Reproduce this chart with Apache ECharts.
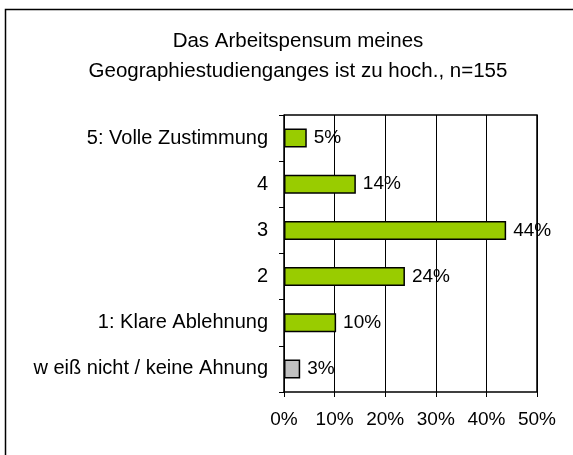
<!DOCTYPE html>
<html>
<head>
<meta charset="utf-8">
<script src="https://cdn.jsdelivr.net/npm/echarts@6/dist/echarts.min.js"></script>
<style>
  html, body { margin: 0; padding: 0; background: #fff; }
  #chart { width: 573px; height: 455px; }
</style>
</head>
<body>
<div id="chart"></div>
<script>
// answers, top to bottom in the picture (category axis runs bottom-up, so reversed below)
const categories = ['5: Volle Zustimmung', '4', '3', '2', '1: Klare Ablehnung', 'w eiß nicht / keine Ahnung'];
const shares = [4.5, 14.2, 43.9, 23.9, 10.3, 3.2];
const barColors = ['#99CC00', '#99CC00', '#99CC00', '#99CC00', '#99CC00', '#C0C0C0'];
const titleText = 'Das Arbeitspensum meines\nGeographiestudienganges ist zu hoch., n=155';

const chart = echarts.init(document.getElementById('chart'));
const font = 'Liberation Sans, Arial, sans-serif';

const frame = {
  type: 'rect',
  shape: { x: 5.5, y: 9.5, width: 620, height: 520 },
  style: { fill: 'none', stroke: '#000', lineWidth: 1.5 },
  silent: true
};

const options = {
  animation: false,
  title: {
    text: titleText,
    left: 293,
    top: 21,
    textAlign: 'center',
    textStyle: {
      fontFamily: font,
      fontSize: 20.5,
      fontWeight: 'normal',
      color: '#000',
      lineHeight: 30
    }
  },
  grid: {
    left: 284,
    right: 36,
    top: 115,
    bottom: 63
  },
  xAxis: {
    type: 'value',
    min: 0,
    max: 50,
    interval: 10,
    axisLine: { show: true, lineStyle: { color: '#000', width: 1.5 } },
    axisTick: { show: true, length: 5, lineStyle: { color: '#000' } },
    axisLabel: {
      formatter: '{value}%',
      color: '#000',
      fontFamily: font,
      fontSize: 19,
      margin: 18
    },
    splitLine: { show: true, lineStyle: { color: '#000', width: 1 } }
  },
  yAxis: {
    type: 'category',
    data: categories.slice().reverse(),
    axisLine: { show: true, lineStyle: { color: '#000', width: 1.5 } },
    axisTick: { show: true, length: 5, lineStyle: { color: '#000' } },
    axisLabel: {
      color: '#000',
      fontFamily: font,
      fontSize: 20,
      margin: 16
    }
  },
  series: [{
    type: 'bar',
    data: shares.slice().reverse().map((v, i) => ({
      value: v,
      itemStyle: { color: barColors.slice().reverse()[i] }
    })),
    barWidth: 19,
    itemStyle: { borderColor: '#000', borderWidth: 1.5 },
    label: {
      show: true,
      position: 'right',
      distance: 7,
      formatter: (p) => Math.round(p.value) + '%',
      color: '#000',
      fontFamily: font,
      fontSize: 19
    }
  }],
  graphic: [frame, {
    // top and right edges of the plot frame
    type: 'polyline',
    shape: { points: [[284, 115], [537, 115], [537, 392]] },
    style: { fill: 'none', stroke: '#000', lineWidth: 1.5 },
    silent: true,
    z: 10
  }]
};

chart.setOption(options);
</script>
</body>
</html>
